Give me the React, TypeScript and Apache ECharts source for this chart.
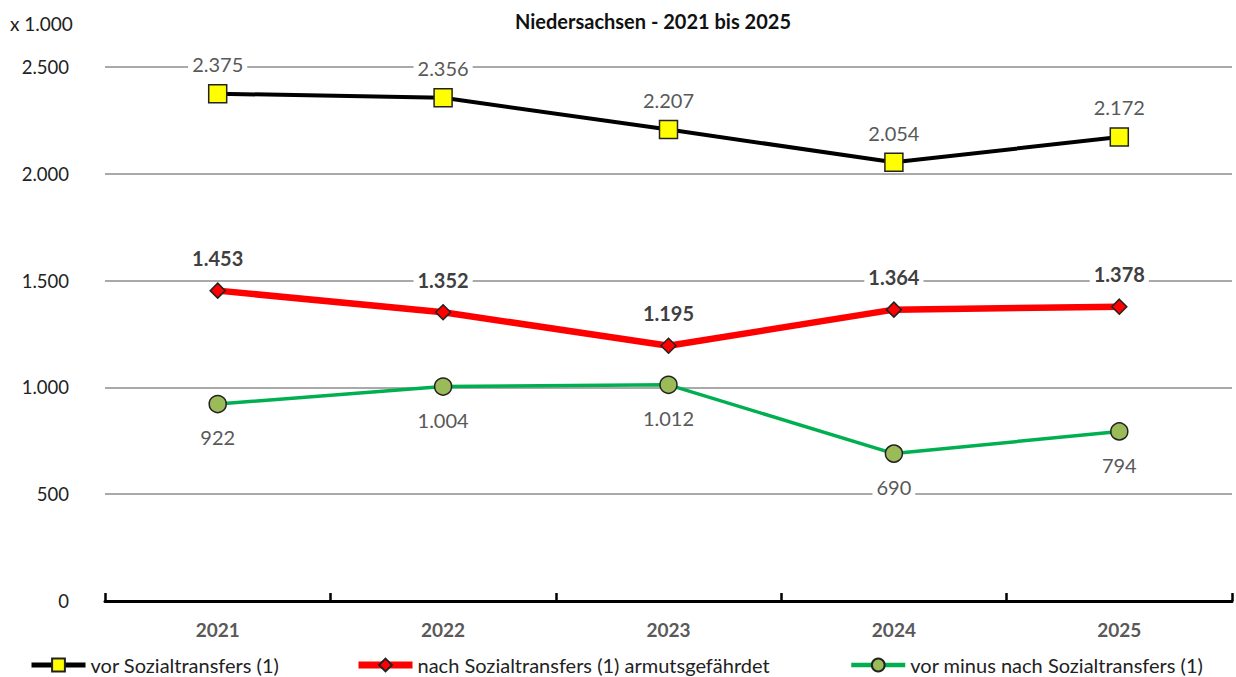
import React, { useEffect, useRef } from "react";
import * as echarts from "echarts";

const years = ["2021", "2022", "2023", "2024", "2025"];
const vorSozial = [2375, 2356, 2207, 2054, 2172];
const nachSozial = [1453, 1352, 1195, 1364, 1378];
const differenz = [922, 1004, 1012, 690, 794];
const yTicks = [0, 500, 1000, 1500, 2000, 2500];

const nameVor = "vor Sozialtransfers (1)";
const nameNach = "nach Sozialtransfers (1) armutsgefährdet";
const nameDiff = "vor minus nach Sozialtransfers (1)";

const FONT = "Lato, 'Open Sans', sans-serif";
const fmt = (v: number) => String(v).replace(/\B(?=(\d{3})+(?!\d))/g, ".");

export default function App() {
  const ref = useRef<HTMLDivElement>(null);
  useEffect(() => {
    if (!ref.current) return;
    const chart = echarts.init(ref.current, undefined, { renderer: "svg" });
    const legendCommon = {
      top: 655,
      itemWidth: 54,
      itemHeight: 16,
      padding: 0,
      textStyle: { fontFamily: FONT, fontSize: 20, lineHeight: 20, color: "#222" },
      itemGap: 4,
    };
    chart.setOption({
      animation: false,
      textStyle: { fontFamily: FONT },
      title: {
        text: "Niedersachsen - 2021 bis 2025",
        left: 648,
        textAlign: "center",
        top: 6,
        textStyle: { fontFamily: FONT, fontSize: 20, fontWeight: "bold", color: "#111" },
      },
      graphic: [
        {
          type: "text",
          left: 10,
          top: 14,
          style: { text: "x 1.000", font: `19px ${FONT}`, fill: "#222" },
        },
      ],
      legend: [
        { ...legendCommon, left: 29, data: [nameVor], lineStyle: { width: 5 } },
        { ...legendCommon, left: 355, data: [nameNach], lineStyle: { width: 7 } },
        { ...legendCommon, left: 849, data: [nameDiff], lineStyle: { width: 4.5 } },
      ],
      grid: { left: 105, right: 4, top: 67, bottom: 76, containLabel: false },
      xAxis: {
        type: "category",
        data: years,
        boundaryGap: true,
        axisLine: { lineStyle: { color: "#000", width: 3 } },
        axisTick: { show: true, inside: true, length: 8, lineStyle: { color: "#000", width: 2.5 }, alignWithLabel: false },
        axisLabel: { fontFamily: FONT, fontSize: 19, fontWeight: "bold", color: "#595959", margin: 19 },
      },
      yAxis: {
        type: "value",
        min: yTicks[0],
        max: yTicks[yTicks.length - 1],
        interval: 500,
        axisLine: { show: false },
        axisTick: { show: false },
        splitLine: { lineStyle: { color: "#8c8c8c", width: 1.5 } },
        axisLabel: {
          fontFamily: FONT,
          fontSize: 18.5,
          color: "#222",
          margin: 36,
          formatter: (v: number) => fmt(v),
        },
      },
      series: [
        {
          name: nameVor,
          type: "line",
          data: vorSozial,
          symbol: "rect",
          symbolSize: 18,
          lineStyle: { color: "#000", width: 4 },
          itemStyle: { color: "#ffff00", borderColor: "#222", borderWidth: 1.5 },
          label: {
            show: true,
            position: "top",
            distance: 10,
            fontFamily: FONT,
            fontSize: 20,
            color: "#595959",
            backgroundColor: "#fff",
            padding: [0, 4],
            formatter: (p: any) => fmt(p.value),
          },
          z: 3,
        },
        {
          name: nameNach,
          type: "line",
          data: nachSozial,
          symbol: "diamond",
          symbolSize: 15,
          lineStyle: { color: "#ff0000", width: 6.5 },
          itemStyle: { color: "#ff0000", borderColor: "#222", borderWidth: 1.5 },
          label: {
            show: true,
            position: "top",
            distance: 14,
            fontFamily: FONT,
            fontSize: 20,
            fontWeight: "bold",
            color: "#404040",
            backgroundColor: "#fff",
            padding: [0, 4],
            formatter: (p: any) => fmt(p.value),
          },
          z: 3,
        },
        {
          name: nameDiff,
          type: "line",
          data: differenz,
          symbol: "circle",
          symbolSize: 17,
          lineStyle: { color: "#00b050", width: 3.5 },
          itemStyle: { color: "#9bbb59", borderColor: "#222", borderWidth: 1.5 },
          label: {
            show: true,
            position: "bottom",
            distance: 14,
            fontFamily: FONT,
            fontSize: 20,
            color: "#595959",
            backgroundColor: "#fff",
            padding: [0, 4],
            formatter: (p: any) => fmt(p.value),
          },
          z: 3,
        },
      ],
    });
    return () => chart.dispose();
  }, []);
  return <div ref={ref} style={{ width: 1236, height: 677, position: "absolute", left: 0, top: 0, background: "#fff" }} />;
}
